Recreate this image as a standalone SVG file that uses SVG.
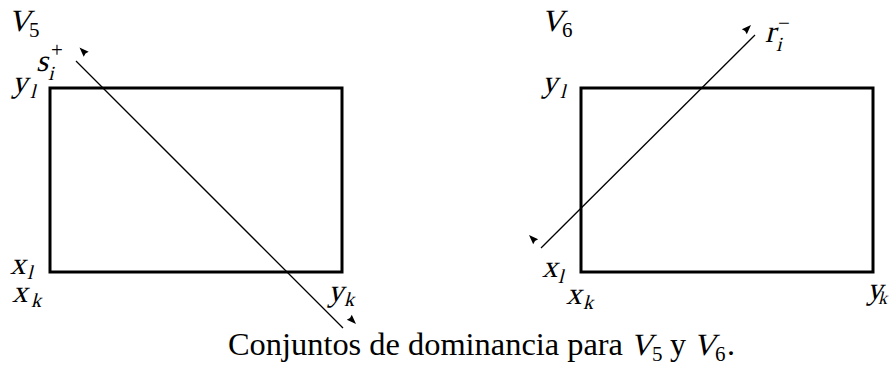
<svg xmlns="http://www.w3.org/2000/svg" width="891" height="365" viewBox="0 0 891 365">
<style>
.m{font-family:"Liberation Serif","Times New Roman",serif;font-size:31px;fill:#000}
.s{font-family:"Liberation Serif","Times New Roman",serif;font-size:20px;fill:#000}
.d{font-family:"Liberation Serif","Times New Roman",serif;font-size:21px;fill:#000}
.t{font-family:"Liberation Serif","Times New Roman",serif;font-size:32px;fill:#000}
.box{fill:none;stroke:#000;stroke-width:3}
.ln{stroke:#000;stroke-width:1.3;fill:none}
.ah{fill:#000}
</style>
<g id="v5-box">
<rect class="box" x="50" y="88" width="292" height="184"/>
<text class="m" transform="translate(8,31) skewX(-14)">V</text><text class="d" x="29" y="37">5</text>
<text class="m" transform="translate(12,92) skewX(-14)">y</text><text class="s" transform="translate(30,98) skewX(-14)">l</text>
<text class="m" transform="translate(10,274) skewX(-14)">x</text><text class="s" transform="translate(27,279) skewX(-14)">l</text>
<text class="m" transform="translate(12,302) skewX(-14)">x</text><text class="s" transform="translate(31,307) skewX(-14)">k</text>
<text class="m" transform="translate(328,301) skewX(-14)">y</text><text class="s" transform="translate(344,306) skewX(-14)">k</text>
<text class="m" transform="translate(36,71) skewX(-14)">s</text><text class="s" transform="translate(48,80) skewX(-14)">i</text><text class="d" x="51" y="57">+</text>
</g>
<g id="v6-box">
<rect class="box" x="581" y="88" width="292" height="184"/>
<text class="m" transform="translate(541,31) skewX(-14)">V</text><text class="d" x="562" y="37">6</text>
<text class="m" transform="translate(542,92) skewX(-14)">y</text><text class="s" transform="translate(560,98) skewX(-14)">l</text>
<text class="m" transform="translate(542,277) skewX(-14)">x</text><text class="s" transform="translate(558,283) skewX(-14)">l</text>
<text class="m" transform="translate(566,304) skewX(-14)">x</text><text class="s" transform="translate(583,309) skewX(-14)">k</text>
<text class="m" transform="translate(867,299) skewX(-14)">y</text><text class="s" transform="translate(878,304) skewX(-14)" style="font-size:18px">k</text>
<text class="m" transform="translate(765,42) skewX(-14)">r</text><text class="s" transform="translate(776,51) skewX(-14)">i</text><text class="d" x="778" y="30">−</text>
</g>
<g id="connectors">
<line class="ln" x1="76" y1="61" x2="343" y2="328"/>
<polygon class="ah" points="79.5,47.5 88.7,51.7 85.5,53.5 83.7,56.7"/>
<polygon class="ah" points="356,324 346.8,319.8 350,318 351.8,314.8"/>
<line class="ln" x1="541" y1="248" x2="755" y2="35"/>
<polygon class="ah" points="529,235 538.2,239.2 535,241 533.2,244.2"/>
<polygon class="ah" points="751,25 741.8,29.2 745,31 746.8,34.2"/>
</g>
<g id="caption">
<text class="t" x="228" y="355" textLength="395" lengthAdjust="spacingAndGlyphs">Conjuntos de dominancia para</text>
<text class="m" transform="translate(630,355) skewX(-14)">V</text><text class="d" x="652" y="361">5</text>
<text class="t" x="670" y="355">y</text>
<text class="m" transform="translate(693,355) skewX(-14)">V</text><text class="d" x="715" y="361">6</text><text class="t" x="727" y="355">.</text>
</g>
</svg>
